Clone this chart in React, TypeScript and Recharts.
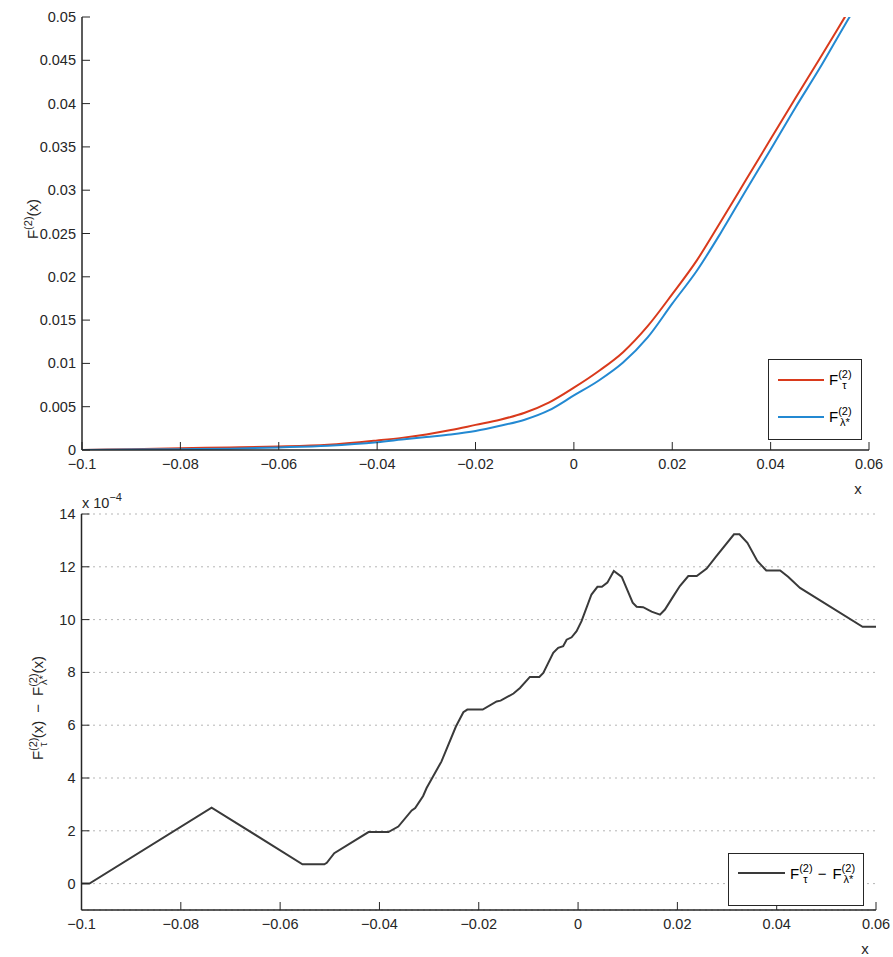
import React from 'react';
import { LineChart, Line, XAxis, YAxis, CartesianGrid, Legend } from 'recharts';

const FONT = '"Liberation Sans", Arial, Helvetica, sans-serif';
const AX = '#262626';
const RED = '#D93A1C';
const BLUE = '#2389D2';
const DARK = '#3a3a3a';
const TFS = 14.5; // tick font size
const LFS = 15; // label font size
const SFS = 11; // sub/sup font size

// ---- top panel data ----
const xTop = [-0.1, -0.09, -0.08, -0.07, -0.06, -0.05, -0.04, -0.035, -0.03, -0.025, -0.02, -0.015, -0.01, -0.005, 0, 0.005, 0.01, 0.015, 0.02, 0.025, 0.03, 0.035, 0.04, 0.045, 0.05, 0.055, 0.06];
const fTau = [0, 0.0001, 0.0002, 0.0003, 0.0004, 0.0006, 0.0011, 0.0014, 0.0018, 0.0023, 0.0029, 0.0035, 0.0043, 0.0055, 0.0072, 0.0091, 0.0113, 0.0143, 0.018, 0.0219, 0.0265, 0.0312, 0.0359, 0.0406, 0.0452, 0.0499, 0.0546];
const fLam = [0, 0.00005, 0.0001, 0.00015, 0.0003, 0.0005, 0.0009, 0.0012, 0.0015, 0.0018, 0.0022, 0.0028, 0.0035, 0.0046, 0.0063, 0.008, 0.0101, 0.013, 0.0169, 0.0207, 0.0252, 0.03, 0.0347, 0.0395, 0.0441, 0.049, 0.0537];
const xTicks = [-0.1, -0.08, -0.06, -0.04, -0.02, 0, 0.02, 0.04, 0.06];
const yTicksTop = [0, 0.005, 0.01, 0.015, 0.02, 0.025, 0.03, 0.035, 0.04, 0.045, 0.05];

// ---- bottom panel data (units of 1e-4) ----
const xDiff = [-0.1, -0.0984, -0.0738, -0.0555, -0.0511, -0.0506, -0.0491, -0.0422, -0.0382, -0.0362, -0.0335, -0.0328, -0.0312, -0.0305, -0.0275, -0.0246, -0.0231, -0.0223, -0.0192, -0.0164, -0.0156, -0.013, -0.0117, -0.0097, -0.0078, -0.007, -0.005, -0.004, -0.003, -0.0023, -0.0013, -0.0003, 0.0007, 0.0027, 0.0039, 0.0048, 0.0059, 0.0072, 0.0088, 0.011, 0.0118, 0.0131, 0.0148, 0.0165, 0.0175, 0.0192, 0.0205, 0.0222, 0.0239, 0.0259, 0.0279, 0.0314, 0.0325, 0.0341, 0.0361, 0.0379, 0.0407, 0.0423, 0.0447, 0.0573, 0.06];
const diffVals = [0, 0, 2.88, 0.73, 0.73, 0.79, 1.15, 1.95, 1.95, 2.16, 2.77, 2.86, 3.32, 3.62, 4.63, 5.95, 6.49, 6.59, 6.59, 6.9, 6.93, 7.2, 7.41, 7.83, 7.83, 7.98, 8.74, 8.93, 8.99, 9.24, 9.33, 9.56, 9.94, 10.95, 11.24, 11.24, 11.4, 11.84, 11.62, 10.64, 10.49, 10.47, 10.3, 10.19, 10.38, 10.89, 11.27, 11.65, 11.65, 11.93, 12.41, 13.23, 13.23, 12.91, 12.22, 11.86, 11.86, 11.62, 11.2, 9.73, 9.73];
const yTicksBottom = [0, 2, 4, 6, 8, 10, 12, 14];

const topData = xTop.map((x, i) => ({ x, tau: fTau[i], lam: fLam[i] }));
const bottomData = xDiff.map((x, i) => ({ x, d: diffVals[i] }));

const fmt = (v: number) => String(Number(v.toFixed(4))).replace('-', '\u2212');

const BottomTick = (p: any) => (
  <g>
    <line x1={p.x} x2={p.x} y1={p.y} y2={p.y - 8} stroke={AX} strokeWidth={1} />
    <text x={p.x} y={p.y + 18.5} textAnchor="middle" fontSize={TFS} fill={AX} fontFamily={FONT}>
      {fmt(p.payload.value)}
    </text>
  </g>
);
const LeftTick = (p: any) => (
  <g>
    <line x1={p.x} x2={p.x + 8} y1={p.y} y2={p.y} stroke={AX} strokeWidth={1} />
    <text x={p.x - 6} y={p.y + 5} textAnchor="end" fontSize={TFS} fill={AX} fontFamily={FONT}>
      {fmt(p.payload.value)}
    </text>
  </g>
);
const TopTick = (p: any) => <line x1={p.x} x2={p.x} y1={p.y} y2={p.y + 8} stroke={AX} strokeWidth={1} />;
const RightTick = (p: any) => <line x1={p.x} x2={p.x - 8} y1={p.y} y2={p.y} stroke={AX} strokeWidth={1} />;

const XLabel = (props: any) => {
  const vb = props.viewBox || {};
  return (
    <text x={vb.x + vb.width - 11} y={vb.y + 43.6} textAnchor="middle" fontSize={LFS} fill={AX} fontFamily={FONT}>
      x
    </text>
  );
};

const TopYTitle = () => {
  const cx = 38, cy = 219;
  return (
    <text transform={`rotate(-90 ${cx} ${cy})`} x={cx} y={cy} textAnchor="middle" fontSize={LFS} fill={AX} fontFamily={FONT}>
      F<tspan fontSize={SFS} dy={-6}>(2)</tspan>
      <tspan dy={6}>(x)</tspan>
    </text>
  );
};

const BottomYTitle = (props: any) => {
  const vb = props.viewBox || { x: 0, y: 34, width: 81.5 };
  const cx = 43, cy = 228;
  return (
    <g>
      <text transform={`rotate(-90 ${cx} ${cy})`} x={cx} y={cy} textAnchor="middle" fontSize={LFS} fill={AX} fontFamily={FONT}>
        F<tspan fontSize={SFS} dy={-6}>(2)</tspan>
        <tspan fontSize={SFS} dx={-9.3} dy={10}>τ</tspan>
        <tspan dx={4.1} dy={-4}>(x)</tspan>
        <tspan dx={8}>{'\u2212'}</tspan>
        <tspan dx={8}>F</tspan>
        <tspan fontSize={SFS} dy={-6}>(2)</tspan>
        <tspan fontSize={SFS} dx={-11.7} dy={10}>λ*</tspan>
        <tspan dx={1.9} dy={-4}>(x)</tspan>
      </text>
      <text x={vb.x + vb.width + 0.5} y={vb.y - 6} fontSize={TFS} fill={AX} fontFamily={FONT}>
        x 10
        <tspan fontSize={SFS} dy={-7}>{'\u22124'}</tspan>
      </text>
    </g>
  );
};

const TopLegend = () => (
  <svg width={95} height={82} style={{ display: 'block' }}>
    <rect x={0.5} y={0.5} width={93} height={80} fill="#fff" stroke={AX} strokeWidth={1} />
    <line x1={10} x2={56} y1={21} y2={21} stroke={RED} strokeWidth={2} />
    <text x={61} y={26} fontSize={LFS} fill="#000" fontFamily={FONT}>
      F<tspan fontSize={SFS} dy={-7}>(2)</tspan>
      <tspan fontSize={SFS} dx={-9.3} dy={11}>τ</tspan>
    </text>
    <line x1={10} x2={56} y1={58} y2={58} stroke={BLUE} strokeWidth={2} />
    <text x={61} y={63} fontSize={LFS} fill="#000" fontFamily={FONT}>
      F<tspan fontSize={SFS} dy={-7}>(2)</tspan>
      <tspan fontSize={SFS} dx={-11.7} dy={11}>λ*</tspan>
    </text>
  </svg>
);

const BottomLegend = () => (
  <svg width={137} height={54} style={{ display: 'block' }}>
    <rect x={0.5} y={0.5} width={135} height={52} fill="#fff" stroke={AX} strokeWidth={1} />
    <line x1={10} x2={57} y1={20} y2={20} stroke={DARK} strokeWidth={2} />
    <text x={62} y={26} fontSize={LFS} fill="#000" fontFamily={FONT}>
      F<tspan fontSize={SFS} dy={-7}>(2)</tspan>
      <tspan fontSize={SFS} dx={-9.3} dy={11}>τ</tspan>
      <tspan dx={10} dy={-4}>{'\u2212'}</tspan>
      <tspan dx={6}>F</tspan>
      <tspan fontSize={SFS} dy={-7}>(2)</tspan>
      <tspan fontSize={SFS} dx={-11.7} dy={11}>λ*</tspan>
    </text>
  </svg>
);

const axisLine = { stroke: AX, strokeWidth: 1.5 };

export default function App() {
  return (
    <div style={{ position: 'absolute', left: 0, top: 0, width: 893, height: 957, background: '#fff', fontFamily: FONT }}>
      <div style={{ position: 'absolute', left: 0, top: 0 }}>
        <LineChart width={893} height={500} data={topData} margin={{ top: 17, right: 24, bottom: 0, left: 0 }}>
          <XAxis dataKey="x" type="number" domain={[-0.1, 0.06]} ticks={xTicks} interval={0} allowDataOverflow
            height={50} tickSize={0} tickMargin={0} tick={BottomTick} tickLine={false} axisLine={axisLine}
            label={{ content: XLabel }} />
          <XAxis xAxisId="top" orientation="top" dataKey="x" type="number" domain={[-0.1, 0.06]} ticks={xTicks} interval={0}
            allowDataOverflow height={0} tickSize={0} tickMargin={0} tick={TopTick} tickLine={false} axisLine={axisLine} />
          <YAxis type="number" domain={[0, 0.05]} ticks={yTicksTop} interval={0} allowDataOverflow width={82}
            tickSize={0} tickMargin={0} tick={LeftTick} tickLine={false} axisLine={axisLine} label={{ content: TopYTitle }} />
          <YAxis yAxisId="r" orientation="right" type="number" domain={[0, 0.05]} ticks={yTicksTop} interval={0} allowDataOverflow
            width={0} tickSize={0} tickMargin={0} tick={RightTick} tickLine={false} axisLine={axisLine} />
          <Line type="monotone" dataKey="tau" stroke={RED} strokeWidth={2} dot={false} isAnimationActive={false} />
          <Line type="monotone" dataKey="lam" stroke={BLUE} strokeWidth={2} dot={false} isAnimationActive={false} />
          <Legend layout="vertical" align="center" verticalAlign="middle" content={TopLegend}
            wrapperStyle={{ left: 768, top: 359, width: 95, height: 82 }} />
        </LineChart>
      </div>
      <div style={{ position: 'absolute', left: 0, top: 480 }}>
        <LineChart width={893} height={477} data={bottomData} margin={{ top: 34, right: 17, bottom: 0, left: 0 }}>
          <CartesianGrid vertical={false} stroke="#6b6b6b" strokeDasharray="1 5" />
          <XAxis dataKey="x" type="number" domain={[-0.1, 0.06]} ticks={xTicks} interval={0} allowDataOverflow
            height={47} tickSize={0} tickMargin={0} tick={BottomTick} tickLine={false} axisLine={axisLine}
            label={{ content: XLabel }} />
          <XAxis xAxisId="top" orientation="top" dataKey="x" type="number" domain={[-0.1, 0.06]} ticks={xTicks} interval={0}
            allowDataOverflow height={0} tickSize={0} tickMargin={0} tick={TopTick} tickLine={false} axisLine={axisLine} />
          <YAxis type="number" domain={[-1, 14]} ticks={yTicksBottom} interval={0} allowDataOverflow width={81.5}
            tickSize={0} tickMargin={0} tick={LeftTick} tickLine={false} axisLine={axisLine} label={{ content: BottomYTitle }} />
          <YAxis yAxisId="r" orientation="right" type="number" domain={[-1, 14]} ticks={yTicksBottom} interval={0} allowDataOverflow
            width={0} tickSize={0} tickMargin={0} tick={RightTick} tickLine={false} axisLine={axisLine} />
          <Line type="linear" dataKey="d" stroke={DARK} strokeWidth={2} dot={false} isAnimationActive={false} />
          <Legend layout="vertical" align="center" verticalAlign="middle" content={BottomLegend}
            wrapperStyle={{ left: 728, top: 373, width: 137, height: 54 }} />
        </LineChart>
      </div>
    </div>
  );
}
